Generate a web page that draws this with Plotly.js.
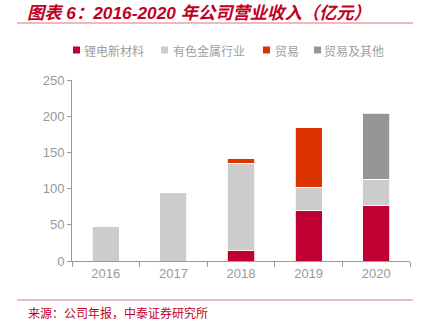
<!DOCTYPE html>
<html><head><meta charset="utf-8">
<script src="https://cdn.plot.ly/plotly-3.0.1.min.js"></script>
<style>body{margin:0;padding:0;background:#fff}#chart{width:425px;height:323px}</style>
</head><body><div id="chart"></div>
<script>
const years = ['2016','2017','2018','2019','2020'];
const lithium = [0, 0, 14, 70, 77];
const nonferrous = [48, 95, 121, 32, 36];
const trade = [0, 0, 7, 83, 0];
const tradeOther = [0, 0, 0, 0, 91];
const seriesNames = ['锂电新材料', '有色金属行业', '贸易', '贸易及其他'];
const seriesColors = ['#C00032', '#CCCCCC', '#DD3300', '#959595'];
const seriesData = [lithium, nonferrous, trade, tradeOther];

const cjk = 'Liberation Sans, Noto Sans CJK SC, sans-serif';
const M = {l: 72, r: 15, t: 80, b: 62};
const W = 425, H = 323;
const pw = W - M.l - M.r, ph = H - M.t - M.b;
const px = p => (p - M.l) / pw;
const py = p => (H - M.b - p) / ph;

const traces = seriesData.map((v, i) => ({
  type: 'bar', name: seriesNames[i], x: years, y: v,
  marker: {color: seriesColors[i], line: {color: '#ffffff', width: 0.8}},
  hoverinfo: 'skip', showlegend: false
}));

// manual legend positions (pixels)
const legMarkX = [73, 161, 263, 314];
const legTextX = [82, 171, 273, 322];
const legY = 50;
const shapes = [
  {type: 'line', xref: 'paper', yref: 'paper', x0: px(17), x1: px(413), y0: py(23), y1: py(23),
    line: {color: '#EBA0A8', width: 1.5}},
  {type: 'line', xref: 'paper', yref: 'paper', x0: px(17), x1: px(413), y0: py(300), y1: py(300),
    line: {color: '#EBA0A8', width: 1.5}}
];
const annotations = [
  {text: '来源：公司年报，中泰证券研究所', xref: 'paper', yref: 'paper', x: px(26), y: py(312),
    xanchor: 'left', yanchor: 'middle', showarrow: false,
    font: {family: 'Noto Sans CJK SC, sans-serif', size: 12, color: '#C0001E'}}
];
seriesNames.forEach((n, i) => {
  shapes.push({type: 'rect', xref: 'paper', yref: 'paper',
    x0: px(legMarkX[i]), x1: px(legMarkX[i] + 7), y0: py(legY + 3.5), y1: py(legY - 3.5),
    fillcolor: seriesColors[i], line: {width: 0}});
  annotations.push({text: n, xref: 'paper', yref: 'paper', x: px(legTextX[i]), y: py(legY),
    xanchor: 'left', yanchor: 'middle', showarrow: false,
    font: {family: 'Noto Sans CJK SC, sans-serif', size: 12, color: '#A0A0A0'}});
});

const layout = {
  width: W, height: H, margin: M,
  barmode: 'stack', bargap: 0.6,
  paper_bgcolor: '#fff', plot_bgcolor: '#fff',
  font: {family: cjk, color: '#999999', size: 13},
  title: {text: '<b><i>图表 6：2016-2020 年公司营业收入（亿元）</i></b>',
    x: 27 / W, xanchor: 'left', y: 1 - 12.5 / H, yanchor: 'middle',
    font: {family: cjk, size: 17.3, color: '#C0001E'}},
  xaxis: {type: 'category', showline: true, linecolor: '#999999', linewidth: 1,
    ticks: 'outside', tickson: 'boundaries', ticklen: 5, tickcolor: '#999999',
    tickfont: {size: 13, color: '#999999'}, showgrid: false, zeroline: false},
  yaxis: {range: [0, 250], dtick: 50, showline: true, linecolor: '#999999', linewidth: 1,
    ticks: 'outside', ticklen: 4, tickcolor: '#999999', showgrid: false, zeroline: false,
    tickfont: {size: 13, color: '#999999'}},
  showlegend: false,
  shapes: shapes,
  annotations: annotations
};
Plotly.newPlot('chart', traces, layout, {displayModeBar: false, staticPlot: true});
</script></body></html>
